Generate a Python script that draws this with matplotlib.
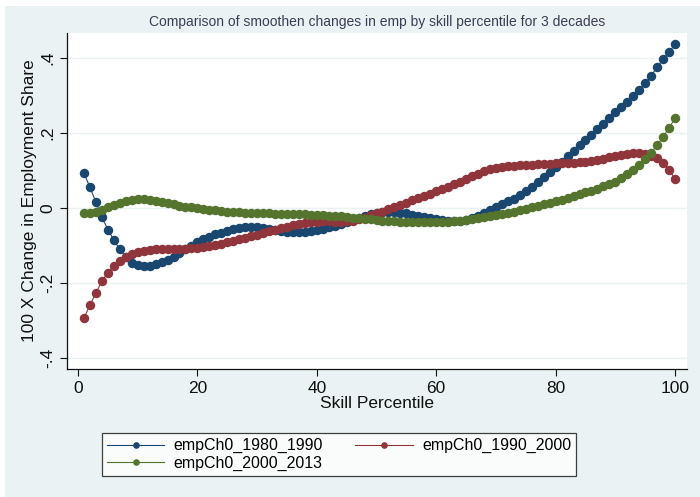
import matplotlib
matplotlib.use("Agg")
import matplotlib.pyplot as plt
from matplotlib.patches import Rectangle

plt.rcParams["font.family"] = ["Liberation Sans", "DejaVu Sans"]

# skill percentile 1..100
pct = list(range(1, 101))

emp_1980_1990 = [
    0.093, 0.056, 0.016, -0.024, -0.057, -0.085, -0.110, -0.130, -0.145, -0.152,
    -0.155, -0.153, -0.149, -0.144, -0.137, -0.129, -0.120, -0.110, -0.100, -0.091,
    -0.083, -0.076, -0.070, -0.065, -0.060, -0.056, -0.053, -0.051, -0.050, -0.050,
    -0.052, -0.055, -0.058, -0.061, -0.063, -0.064, -0.064, -0.063, -0.061, -0.058,
    -0.055, -0.051, -0.047, -0.043, -0.038, -0.032, -0.026, -0.020, -0.015, -0.012,
    -0.010, -0.010, -0.011, -0.012, -0.014, -0.017, -0.020, -0.023, -0.027, -0.030,
    -0.032, -0.034, -0.035, -0.034, -0.031, -0.027, -0.021, -0.013, -0.005, 0.003,
    0.010, 0.018, 0.025, 0.034, 0.045, 0.057, 0.070, 0.083, 0.096, 0.111,
    0.124, 0.139, 0.153, 0.168, 0.182, 0.196, 0.210, 0.224, 0.240, 0.257,
    0.270, 0.283, 0.299, 0.315, 0.333, 0.353, 0.376, 0.397, 0.416, 0.437,
]

emp_1990_2000 = [
    -0.293, -0.259, -0.226, -0.195, -0.172, -0.155, -0.141, -0.130, -0.122, -0.117,
    -0.113, -0.111, -0.110, -0.110, -0.110, -0.110, -0.109, -0.108, -0.107, -0.106,
    -0.104, -0.102, -0.099, -0.095, -0.091, -0.087, -0.083, -0.079, -0.075, -0.071,
    -0.067, -0.062, -0.058, -0.054, -0.050, -0.046, -0.043, -0.040, -0.038, -0.036,
    -0.035, -0.035, -0.036, -0.036, -0.035, -0.033, -0.030, -0.026, -0.019, -0.014,
    -0.009, -0.003, 0.003, 0.009, 0.015, 0.021, 0.027, 0.033, 0.039, 0.045,
    0.051, 0.057, 0.064, 0.071, 0.078, 0.085, 0.092, 0.099, 0.105, 0.108,
    0.110, 0.112, 0.113, 0.114, 0.115, 0.116, 0.117, 0.118, 0.119, 0.120,
    0.120, 0.121, 0.121, 0.122, 0.123, 0.125, 0.128, 0.132, 0.136, 0.139,
    0.142, 0.145, 0.146, 0.146, 0.144, 0.140, 0.133, 0.121, 0.103, 0.077,
]

emp_2000_2013 = [
    -0.013, -0.012, -0.009, -0.004, 0.002, 0.008, 0.014, 0.019, 0.023, 0.025,
    0.025, 0.023, 0.020, 0.017, 0.013, 0.010, 0.007, 0.004, 0.002, 0.000,
    -0.002, -0.004, -0.006, -0.008, -0.009, -0.010, -0.011, -0.012, -0.013, -0.013,
    -0.014, -0.014, -0.015, -0.015, -0.015, -0.015, -0.016, -0.016, -0.017, -0.018,
    -0.019, -0.020, -0.021, -0.022, -0.024, -0.025, -0.027, -0.028, -0.030, -0.031,
    -0.033, -0.034, -0.035, -0.036, -0.037, -0.038, -0.038, -0.038, -0.038, -0.038,
    -0.037, -0.036, -0.035, -0.033, -0.031, -0.029, -0.027, -0.024, -0.021, -0.018,
    -0.015, -0.012, -0.009, -0.005, -0.002, 0.002, 0.006, 0.010, 0.014, 0.018,
    0.022, 0.027, 0.032, 0.037, 0.042, 0.047, 0.052, 0.058, 0.064, 0.071,
    0.080, 0.090, 0.102, 0.116, 0.132, 0.148, 0.168, 0.190, 0.214, 0.240,
]

series = [
    ("empCh0_1980_1990", emp_1980_1990, "#1a476f"),
    ("empCh0_1990_2000", emp_1990_2000, "#90353b"),
    ("empCh0_2000_2013", emp_2000_2013, "#55752f"),
]

xticks = [0, 20, 40, 60, 80, 100]
yticks = [-0.4, -0.2, 0, 0.2, 0.4]
ytick_labels = ["-.4", "-.2", "0", ".2", ".4"]

BG = "#eaf2f3"

fig = plt.figure(figsize=(7, 4.97), dpi=100, facecolor="white")
fig.patches.append(Rectangle((5 / 700, 0), 1, 1 - 6 / 497, transform=fig.transFigure,
                             facecolor=BG, edgecolor="none", zorder=-10))
ax = fig.add_axes([67 / 700, 1 - 369 / 497, 620 / 700, 336 / 497])
ax.set_facecolor("white")

handles = {}
for name, vals, col in series:
    handles[name], = ax.plot(pct, vals, color=col, lw=0.8, marker="o", ms=5.8,
                             mec=col, mfc=col, label=name)

ax.set_xlim(-1.84, 102.0)
ax.set_ylim(-0.429, 0.467)
ax.set_xticks(xticks)
ax.set_yticks(yticks)
ax.set_yticklabels(ytick_labels, rotation=90, va="center")
ax.tick_params(labelsize=12.5, colors="#111111", length=5, width=0.8)
ax.grid(axis="y", color=BG, lw=1.0)
ax.set_axisbelow(True)
for s in ("top", "right"):
    ax.spines[s].set_visible(False)
for s in ("left", "bottom"):
    ax.spines[s].set_linewidth(0.9)
    ax.spines[s].set_color("#111111")

ax.set_xlabel("Skill Percentile", fontsize=12.5, labelpad=0, color="#111111")
ax.set_ylabel("100 X Change in Employment Share", fontsize=12.5, labelpad=2, color="#111111")
fig.text(0.5 * (138 + 617) / 700, 1 - 22 / 497,
         "Comparison of smoothen changes in emp by skill percentile for 3 decades",
         ha="center", va="center", fontsize=10, color="#3a3f55")

# row-major order in a 2-column legend
order = ["empCh0_1980_1990", "empCh0_2000_2013", "empCh0_1990_2000"]
leg = ax.legend([handles[k] for k in order], order, loc="center", ncol=2, mode="expand",
                frameon=True, fancybox=False,
                bbox_to_anchor=(102 / 700, 1 - 483 / 497, 474 / 700, 57 / 497),
                bbox_transform=fig.transFigure, fontsize=11.5, handlelength=3.6,
                borderaxespad=0, borderpad=0.3, labelspacing=0.15, columnspacing=1.2,
                handletextpad=0.6, markerscale=0.65)
leg.get_frame().set_edgecolor("#111111")
leg.get_frame().set_linewidth(0.9)

fig.savefig("out.png", dpi=100, facecolor=fig.get_facecolor())
